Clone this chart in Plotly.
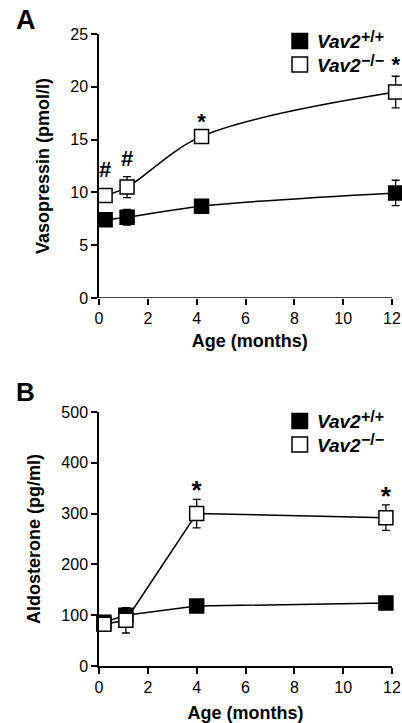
import plotly.graph_objects as go

# Panel A: Vasopressin
a_wt_x = [0.25, 1.15, 4.2, 12.15]
a_wt_y = [7.4, 7.65, 8.7, 9.95]
a_wt_err = [0.35, 0.75, 0.4, 1.2]
a_ko_x = [0.25, 1.15, 4.2, 12.15]
a_ko_y = [9.7, 10.5, 15.3, 19.5]
a_ko_err = [0.4, 1.0, 0.6, 1.5]
a_marks = ["<b>#</b>", "<b>#</b>", "<b>*</b>", "<b>*</b>"]
a_mark_x = [0.25, 1.15, 4.2, 12.15]
a_mark_y = [12.0, 13.0, 16.5, 21.9]

# Panel B: Aldosterone
b_wt_x = [0.2, 1.1, 4.0, 11.75]
b_wt_y = [86, 100, 118, 124]
b_wt_err = [10, 15, 12, 12]
b_ko_x = [0.2, 1.1, 4.0, 11.75]
b_ko_y = [82, 90, 300, 292]
b_ko_err = [10, 25, 28, 25]
b_marks = ["<b>*</b>", "<b>*</b>"]
b_mark_x = [4.0, 11.75]
b_mark_y = [341, 330]

x_ticks = [0, 2, 4, 6, 8, 10, 12]
a_y_ticks = [0, 5, 10, 15, 20, 25]
b_y_ticks = [0, 100, 200, 300, 400, 500]

legend_names = ["Vav2", "Vav2"]
legend_sups = ["+/+", "\u2212/\u2212"]
legend_fill = ["black", "white"]

FONT = "Liberation Sans, Arial, sans-serif"
W, H = 402, 723
X0, X12 = 99, 392          # pixel positions of x = 0 and x = 12
PX = (X12 - X0) / 12.0
A_XMAX = 12.35             # a little room past 12 so the last points show

fig = go.Figure()

def add_series(x, y, err, filled, xa, ya, shape):
    fig.add_trace(go.Scatter(
        x=x, y=y, mode="lines+markers", xaxis=xa, yaxis=ya,
        line=dict(color="black", width=1.5, shape=shape, smoothing=1.0),
        marker=dict(symbol="square", size=14,
                    color="black" if filled else "white",
                    line=dict(color="black", width=1.5)),
        error_y=dict(type="data", array=err, visible=True, color="black",
                     thickness=1.3, width=4),
        cliponaxis=False, showlegend=False, hoverinfo="skip"))

add_series(a_wt_x, a_wt_y, a_wt_err, True, "x", "y", "spline")
add_series(a_ko_x, a_ko_y, a_ko_err, False, "x", "y", "spline")
add_series(b_wt_x, b_wt_y, b_wt_err, True, "x2", "y2", "linear")
add_series(b_ko_x, b_ko_y, b_ko_err, False, "x2", "y2", "linear")

fig.add_trace(go.Scatter(x=a_mark_x, y=a_mark_y, mode="text", text=a_marks,
                         xaxis="x", yaxis="y", cliponaxis=False,
                         textfont=dict(family=FONT, size=22, color="black"),
                         showlegend=False, hoverinfo="skip"))
fig.add_trace(go.Scatter(x=b_mark_x, y=b_mark_y, mode="text", text=b_marks,
                         xaxis="x2", yaxis="y2", cliponaxis=False,
                         textfont=dict(family=FONT, size=26, color="black"),
                         showlegend=False, hoverinfo="skip"))

xdom_a = [X0 / W, (X0 + A_XMAX * PX) / W]
xdom_b = [X0 / W, X12 / W]
ya_dom = [1 - 298 / H, 1 - 34 / H]
yb_dom = [1 - 666 / H, 1 - 412 / H]

axis_common = dict(linecolor="black", linewidth=1.5, automargin=False,
                   ticks="outside", ticklen=6, tickwidth=1.5, tickcolor="black",
                   showgrid=False, zeroline=False,
                   tickfont=dict(family=FONT, size=16, color="black"))

# legend drawn as paper shapes + annotations (two panels, offset 380 px)
shapes = [dict(type="line", xref="x", yref="y", x0=0, x1=12, y0=0, y1=0,
               line=dict(color="black", width=1.5))]
annotations = [
    dict(text="<b>A</b>", x=26 / W, y=1 - 20 / H, xref="paper", yref="paper",
         xanchor="center", yanchor="middle", showarrow=False,
         font=dict(family=FONT, size=27, color="black")),
    dict(text="<b>B</b>", x=25 / W, y=1 - 392.5 / H, xref="paper", yref="paper",
         xanchor="center", yanchor="middle", showarrow=False,
         font=dict(family=FONT, size=26, color="black")),
]
for off in (0, 380):
    for i, (nm, sp, fc) in enumerate(zip(legend_names, legend_sups, legend_fill)):
        top = 33.5 + off + i * 23.5
        shapes.append(dict(type="rect", xref="paper", yref="paper",
                           x0=292 / W, x1=307.5 / W,
                           y0=1 - (top + 15) / H, y1=1 - top / H,
                           fillcolor=fc, line=dict(color="black", width=1.5)))
        annotations.append(dict(text="<b><i>" + nm + "</i></b>",
                                x=315 / W, y=1 - (top + 8) / H,
                                xref="paper", yref="paper", xanchor="left",
                                yanchor="middle", showarrow=False,
                                font=dict(family=FONT, size=19, color="black")))
        annotations.append(dict(text="<b>" + sp + "</b>",
                                x=359 / W, y=1 - (top + 3) / H,
                                xref="paper", yref="paper", xanchor="left",
                                yanchor="middle", showarrow=False,
                                font=dict(family=FONT, size=16, color="black")))

fig.update_layout(
    width=W, height=H, plot_bgcolor="white", paper_bgcolor="white",
    margin=dict(l=0, r=0, t=0, b=0), showlegend=False,
    font=dict(family=FONT, color="black"),
    xaxis=dict(domain=xdom_a, range=[0, A_XMAX], tickvals=x_ticks, anchor="y",
               showline=False,
               title=dict(text="<b>Age (months)</b>", font=dict(size=18), standoff=8),
               **axis_common),
    yaxis=dict(domain=ya_dom, range=[0, 25], tickvals=a_y_ticks, anchor="x",
               showline=True,
               title=dict(text="<b>Vasopressin (pmol/l)</b>", font=dict(size=18), standoff=16),
               **axis_common),
    xaxis2=dict(domain=xdom_b, range=[0, 12], tickvals=x_ticks, anchor="y2",
                showline=True,
                title=dict(text="<b>Age (months)</b>", font=dict(size=18), standoff=19),
                **axis_common),
    yaxis2=dict(domain=yb_dom, range=[0, 500], tickvals=b_y_ticks, anchor="x2",
                showline=True,
                title=dict(text="<b>Aldosterone (pg/ml)</b>", font=dict(size=18), standoff=16),
                **axis_common),
    shapes=shapes,
    annotations=annotations,
)

fig.write_html("out.html", config={"displayModeBar": False},
               post_script="document.body.style.margin='0';"
                           "document.body.style.overflow='hidden';")
